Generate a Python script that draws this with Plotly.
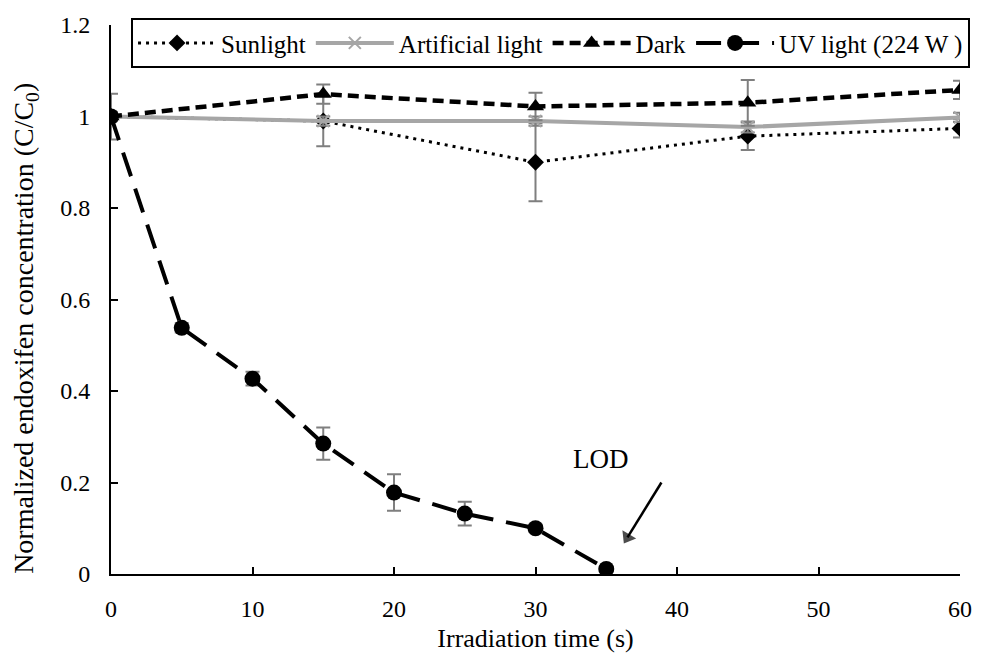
import plotly.graph_objects as go

# ---------------- data ----------------
t_light = [0, 15, 30, 45, 60]
sun_y = [1.0, 0.99, 0.90, 0.957, 0.974]
sun_err = [0.05, 0.055, 0.085, 0.03, 0.02]
art_y = [1.0, 0.99, 0.99, 0.977, 0.998]
art_err = [0.01, 0.01, 0.01, 0.012, 0.01]
dark_y = [1.0, 1.049, 1.022, 1.03, 1.058]
dark_err = [0.01, 0.021, 0.03, 0.05, 0.02]

t_uv = [0, 5, 10, 15, 20, 25, 30, 35]
uv_y = [1.0, 0.538, 0.427, 0.285, 0.178, 0.132, 0.10, 0.011]
uv_err = [0.0, 0.01, 0.015, 0.035, 0.04, 0.026, 0.008, 0.004]

x_ticks = [0, 10, 20, 30, 40, 50, 60]
y_ticks = [0, 0.2, 0.4, 0.6, 0.8, 1.0, 1.2]
y_tick_text = ["0", "0.2", "0.4", "0.6", "0.8", "1", "1.2"]

# LOD label and arrow (data coordinates)
lod_label_pos = (34.6, 0.252)
lod_arrow_x = [38.9, 36.5]
lod_arrow_y = [0.2, 0.08]

FONT = "Liberation Serif, Times New Roman, serif"
ERR_COLOR = "#7f7f7f"

def err(arr):
    return dict(type="data", array=arr, visible=True, color=ERR_COLOR,
                thickness=2, width=7)

fig = go.Figure()
fig.add_trace(go.Scatter(
    x=t_light, y=sun_y, name="Sunlight", mode="lines+markers",
    line=dict(color="black", width=3, dash="3px,5px"),
    marker=dict(symbol="diamond", size=13, color="black"),
    error_y=err(sun_err)))
fig.add_trace(go.Scatter(
    x=t_light, y=art_y, name="Artificial light", mode="lines+markers",
    line=dict(color="#a6a6a6", width=4),
    marker=dict(symbol="x-thin", size=12, color="#a6a6a6",
                line=dict(color="#a6a6a6", width=2)),
    error_y=err(art_err)))
fig.add_trace(go.Scatter(
    x=t_light, y=dark_y, name="Dark", mode="lines+markers",
    line=dict(color="black", width=4.5, dash="11px,6px"),
    marker=dict(symbol="triangle-up", size=15, color="black"),
    error_y=err(dark_err)))
fig.add_trace(go.Scatter(
    x=t_uv, y=uv_y, name="UV light (224 W )", mode="lines+markers",
    line=dict(color="black", width=4, dash="25px,13px"),
    marker=dict(symbol="circle", size=16, color="black"),
    error_y=err(uv_err)))

# arrow for LOD
fig.add_trace(go.Scatter(
    x=lod_arrow_x, y=lod_arrow_y, mode="lines+markers", showlegend=False,
    hoverinfo="skip",
    line=dict(color="black", width=2.5),
    marker=dict(symbol=["circle", "triangle-up"], size=[0, 14], color="black",
                angleref="previous", line=dict(width=0))))

fig.add_annotation(x=lod_label_pos[0], y=lod_label_pos[1], xref="x", yref="y",
                   text="LOD", showarrow=False,
                   font=dict(family=FONT, size=27, color="black"))

# y-axis title as rotated annotation (centered a bit lower, as in reference)
fig.add_annotation(x=-0.101, y=0.447, xref="paper", yref="paper",
                   xanchor="center", yanchor="middle", textangle=-90,
                   text="Normalized endoxifen concentration (C/C<sub>0</sub>)",
                   showarrow=False,
                   font=dict(family=FONT, size=28, color="black"))

axis_common = dict(showline=True, linecolor="black", linewidth=2,
                   ticks="inside", ticklen=7, tickwidth=2, tickcolor="black",
                   showgrid=False, zeroline=False, mirror=False,
                   tickfont=dict(family=FONT, size=24, color="black"))

fig.update_layout(
    width=986, height=660,
    margin=dict(l=111, r=26, t=24, b=78),
    paper_bgcolor="white", plot_bgcolor="white",
    font=dict(family=FONT, color="black"),
    xaxis=dict(range=[0, 60], tickvals=x_ticks, ticklabelstandoff=12,
               title=dict(text="Irradiation time (s)", standoff=8,
                          font=dict(family=FONT, size=26, color="black")),
               **axis_common),
    yaxis=dict(range=[0, 1.2], tickvals=y_ticks, ticktext=y_tick_text,
               ticklabelstandoff=14, **axis_common),
    legend=dict(orientation="h", x=0.0236, y=1.0125, xanchor="left", yanchor="top",
                bgcolor="white", bordercolor="black", borderwidth=2,
                itemwidth=78,
                font=dict(family=FONT, size=25, color="black")),
    showlegend=True,
)

fig.write_html("out.html")
